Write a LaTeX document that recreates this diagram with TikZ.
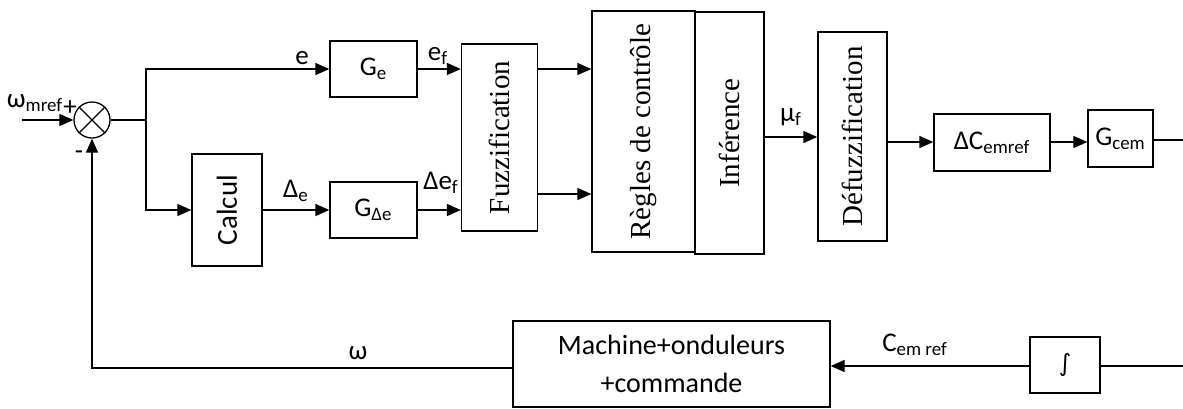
\documentclass[tikz,border=0pt]{standalone}
\usepackage{fontspec}
\setmainfont{Carlito}
\newfontfamily\tnr{Liberation Serif}
\newfontfamily\dvs{DejaVu Sans}
\usetikzlibrary{arrows.meta}

\begin{document}
\begin{tikzpicture}[x=0.5pt, y=-0.5pt, >={Triangle[length=7pt,width=6pt]}, line width=0.75pt,
    blk/.style={draw, line width=0.65pt, inner sep=0pt, font=\fontsize{13.5}{15}\selectfont},
    vblk/.style={draw, line width=0.65pt, inner sep=0pt},
    vtxt/.style={rotate=90, font=\tnr\fontsize{14.5}{16}\selectfont},
    lbl/.style={inner sep=0pt, font=\fontsize{13.5}{15}\selectfont}]
  \useasboundingbox (0,0) rectangle (1183,408);

  \node[draw, circle, minimum size=18pt, inner sep=0pt, line width=0.65pt] (sum) at (92,120) {};
  \draw[line width=0.65pt] (sum.north west) -- (sum.south east) (sum.north east) -- (sum.south west);
  \coordinate (in) at (22,120);
  \coordinate (br) at (146,120);
  \coordinate (outcem) at (1183,140);
  \coordinate (outint) at (1183,366);

  \node[blk, minimum width=43.5pt, minimum height=28pt] (Ge) at (373.5,69) {G\textsubscript{e}};
  \node[blk, minimum width=35pt, minimum height=56pt, font=\fontsize{14.5}{16}\selectfont] (calc) at (227,210) {\rotatebox{90}{Calcul}};
  \node[blk, minimum width=43.5pt, minimum height=28pt] (GDe) at (373.5,210) {G\textsubscript{Δe}};
  \node[vblk, minimum width=38pt, minimum height=93.5pt] (fuzz) at (499.5,137.5) {};
  \node[vtxt] at (fuzz.center) {Fuzzification};
  \node[vblk, minimum width=51.5pt, minimum height=120.5pt] (regles) at (643.5,131.5) {};
  \node[vtxt] at (regles.center) {Règles de contrôle};
  \node[vblk, minimum width=34.5pt, minimum height=121pt] (inf) at (729.5,133) {};
  \node[vtxt] at (inf.center) {Inférence};
  \node[vblk, minimum width=34.5pt, minimum height=104.5pt] (defuzz) at (852.5,136.5) {};
  \node[vtxt] at (defuzz.center) {Défuzzification};
  \node[blk, minimum width=58pt, minimum height=28.5pt] (dC) at (992,142.5) {ΔC\textsubscript{emref}};
  \node[blk, minimum width=32.5pt, minimum height=28.5pt] (Gcem) at (1120.5,138.5) {G\textsubscript{cem}};
  \node[blk, minimum width=158.5pt, minimum height=43pt, align=center, font=\fontsize{14}{19}\selectfont] (mach) at (671.5,364) {Machine+onduleurs\\+commande};
  \node[blk, minimum width=35pt, minimum height=28pt, font=\dvs\fontsize{12}{14}\selectfont] (integ) at (1065,365) {∫};

  \draw[->] (in) -- (sum.west);
  \draw (sum.east) -- (br);
  \draw[->] (br) |- (Ge.west);
  \draw[->] (br) |- (calc.west);
  \draw[->] (calc.east) -- (calc.east -| GDe.west);
  \draw[->] (Ge.east) -- (Ge.east -| fuzz.west);
  \draw[->] (GDe.east) -- (GDe.east -| fuzz.west);
  \draw[->] (fuzz.east |- 0,69) -- (regles.west |- 0,69);
  \draw[->] (fuzz.east |- 0,194) -- (regles.west |- 0,194);
  \draw[->] (inf.east |- 0,137) -- (defuzz.west |- 0,137);
  \draw[->] (defuzz.east |- 0,142) -- (dC.west |- 0,142);
  \draw[->] (dC.east |- 0,142) -- (Gcem.west |- 0,142);
  \draw (Gcem.east |- outcem) -- (outcem);
  \draw (integ.east |- outint) -- (outint);
  \draw[->] (integ.west |- outint) -- (mach.east |- outint);
  \draw[->] (mach.west |- 0,368) -| (sum.south);

  \node[lbl] at (35,103) {ω\textsubscript{mref}};
  \node[lbl] at (70,108) {+};
  \node[lbl] at (79,155) {-};
  \node[lbl] at (302,58) {e};
  \node[lbl] at (438,56) {e\textsubscript{f}};
  \node[lbl] at (296,191) {Δ\textsubscript{e}};
  \node[lbl] at (441,183) {Δe\textsubscript{f}};
  \node[lbl] at (791,117) {μ\textsubscript{f}};
  \node[lbl] at (358,353) {ω};
  \node[lbl] at (915,345) {C\textsubscript{em ref}};
\end{tikzpicture}
\end{document}
